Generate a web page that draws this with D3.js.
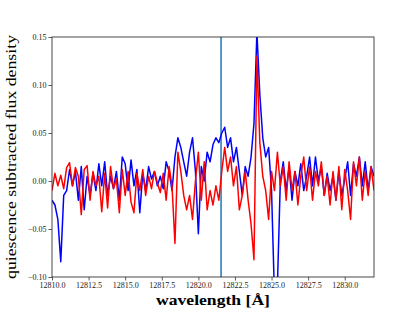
<!DOCTYPE html>
<html>
<head>
<meta charset="utf-8">
<script src="https://cdn.jsdelivr.net/npm/d3@7"></script>
<style>
  body { margin: 0; background: #fff; }
  text { font-family: "Liberation Serif", "DejaVu Serif", serif; }
</style>
</head>
<body>
<svg width="415" height="311"></svg>
<script>
'use strict'

// wavelength grid, 0.2 A steps from 12810 to 12832
var lamStart = 12810, lamStep = 0.2

var blueFlux = [
  -0.020, -0.025, -0.040, -0.084, -0.015, -0.010, 0.012, -0.005, 0.010, -0.020,
  0.015, -0.030, 0.005, -0.015, 0.008, -0.010, 0.018, -0.005, 0.020, -0.015,
  0.005, -0.008, 0.010, -0.020, 0.025, 0.018, -0.010, 0.022, -0.005, 0.012,
  -0.033, 0.008, -0.010, 0.015, 0.002, 0.010, -0.005, 0.005, -0.008, 0.020,
  0.010, -0.010, 0.025, 0.045, 0.035, 0.020, 0.005, 0.030, 0.045, 0.010,
  -0.055, 0.015, 0.000, 0.030, 0.020, 0.038, 0.045, 0.040, 0.050, 0.056,
  0.035, 0.045, 0.020, 0.035, 0.010, -0.015, 0.015, 0.005, 0.025, 0.060,
  0.155, 0.090, 0.045, 0.025, 0.035, -0.010, -0.120, -0.110, 0.000, 0.020,
  -0.010, 0.015, -0.020, 0.010, -0.005, 0.018, -0.010, 0.005, 0.025, -0.005,
  0.025, 0.000, 0.015, -0.015, 0.008, -0.010, 0.005, -0.020, 0.010, -0.015,
  0.002, 0.020, -0.015, 0.018, 0.005, 0.025, -0.005, 0.020, -0.010, 0.015,
  0.005
]

var redFlux = [
  -0.010, 0.008, -0.005, 0.006, -0.008, 0.014, 0.019, -0.005, 0.014, 0.005,
  -0.035, 0.012, 0.016, -0.020, 0.010, -0.005, 0.005, -0.032, 0.008, -0.028,
  0.015, -0.008, 0.002, -0.033, 0.012, -0.015, 0.010, -0.022, -0.033, 0.008,
  -0.010, 0.012, -0.015, 0.005, -0.008, 0.010, -0.002, -0.012, 0.008, -0.020,
  0.015, -0.005, -0.065, 0.030, 0.010, -0.015, -0.030, -0.015, -0.040, 0.000,
  0.030, -0.020, 0.020, -0.030, -0.010, -0.025, -0.005, -0.020, 0.010, 0.035,
  0.010, 0.025, -0.005, 0.015, -0.030, -0.015, 0.010, -0.020, -0.045, -0.082,
  0.130, 0.040, 0.005, -0.010, -0.040, 0.010, -0.010, 0.030, -0.005, 0.015,
  -0.020, 0.020, -0.010, 0.010, -0.025, 0.005, 0.025, -0.010, 0.015, -0.020,
  0.010, -0.005, 0.020, -0.015, 0.005, -0.025, 0.010, -0.020, 0.015, -0.030,
  0.012, -0.010, -0.040, 0.020, -0.005, 0.025, -0.020, 0.010, -0.015, 0.015,
  -0.010
]

var lineCentre = 12821.55

var xTicks = [12810, 12812.5, 12815, 12817.5, 12820, 12822.5, 12825, 12827.5, 12830]
var yTicks = [-0.10, -0.05, 0.00, 0.05, 0.10, 0.15]

var svg = d3.select('svg')
var margin = { top: 37, right: 41, bottom: 34, left: 52 }
var width = 415 - margin.left - margin.right
var height = 311 - margin.top - margin.bottom

var x = d3.scaleLinear().domain([12810, 12832]).range([0, width])
var y = d3.scaleLinear().domain([-0.10, 0.15]).range([height, 0])

var g = svg.append('g')
  .attr('transform', 'translate(' + margin.left + ',' + margin.top + ')')

g.append('clipPath').attr('id', 'clip')
  .append('rect').attr('width', width).attr('height', height)

var lam = function(d, i) { return x(lamStart + i * lamStep) }
var line = d3.line().x(lam).y(function(d) { return y(d) })

var plot = g.append('g').attr('clip-path', 'url(#clip)')

plot.append('line')
  .attr('x1', x(lineCentre)).attr('x2', x(lineCentre))
  .attr('y1', 0).attr('y2', height)
  .attr('stroke', '#1f77b4').attr('stroke-width', 1.5)

plot.append('path').datum(blueFlux)
  .attr('d', line).attr('fill', 'none')
  .attr('stroke', '#0000ff').attr('stroke-width', 1.5)
  .attr('stroke-linejoin', 'round')

plot.append('path').datum(redFlux)
  .attr('d', line).attr('fill', 'none')
  .attr('stroke', '#ff0000').attr('stroke-width', 1.5)
  .attr('stroke-linejoin', 'round')

var fmtX = d3.format('.1f')
var fmtY = function(d) { return d3.format('.2f')(d).replace('-', '\u2212') }

var xAxis = g.append('g')
  .attr('transform', 'translate(0,' + height + ')')
  .call(d3.axisBottom(x).tickValues(xTicks).tickFormat(fmtX).tickSize(3.5).tickPadding(2))
var yAxis = g.append('g')
  .call(d3.axisLeft(y).tickValues(yTicks).tickFormat(fmtY).tickSize(3.5).tickPadding(2))

;[xAxis, yAxis].forEach(function(a) {
  a.select('.domain').remove()
  a.selectAll('line').attr('stroke', '#333').attr('stroke-width', 0.8)
  a.selectAll('text').attr('font-size', 8).attr('fill', '#222')
    .style('font-family', '"Liberation Serif", serif')
})

g.append('rect')
  .attr('width', width).attr('height', height)
  .attr('fill', 'none').attr('stroke', '#333').attr('stroke-width', 0.9)

svg.append('text')
  .attr('x', margin.left + width / 2).attr('y', 305)
  .attr('text-anchor', 'middle')
  .attr('font-size', 14).attr('font-weight', 'bold')
  .attr('textLength', 114).attr('lengthAdjust', 'spacingAndGlyphs')
  .text('wavelength [\u00c5]')

svg.append('text')
  .attr('transform', 'translate(16,' + (margin.top + height / 2) + ') rotate(-90)')
  .attr('text-anchor', 'middle')
  .attr('font-size', 14)
  .attr('textLength', 244).attr('lengthAdjust', 'spacingAndGlyphs')
  .text('quiescence subtracted flux density')
</script>
</body>
</html>
